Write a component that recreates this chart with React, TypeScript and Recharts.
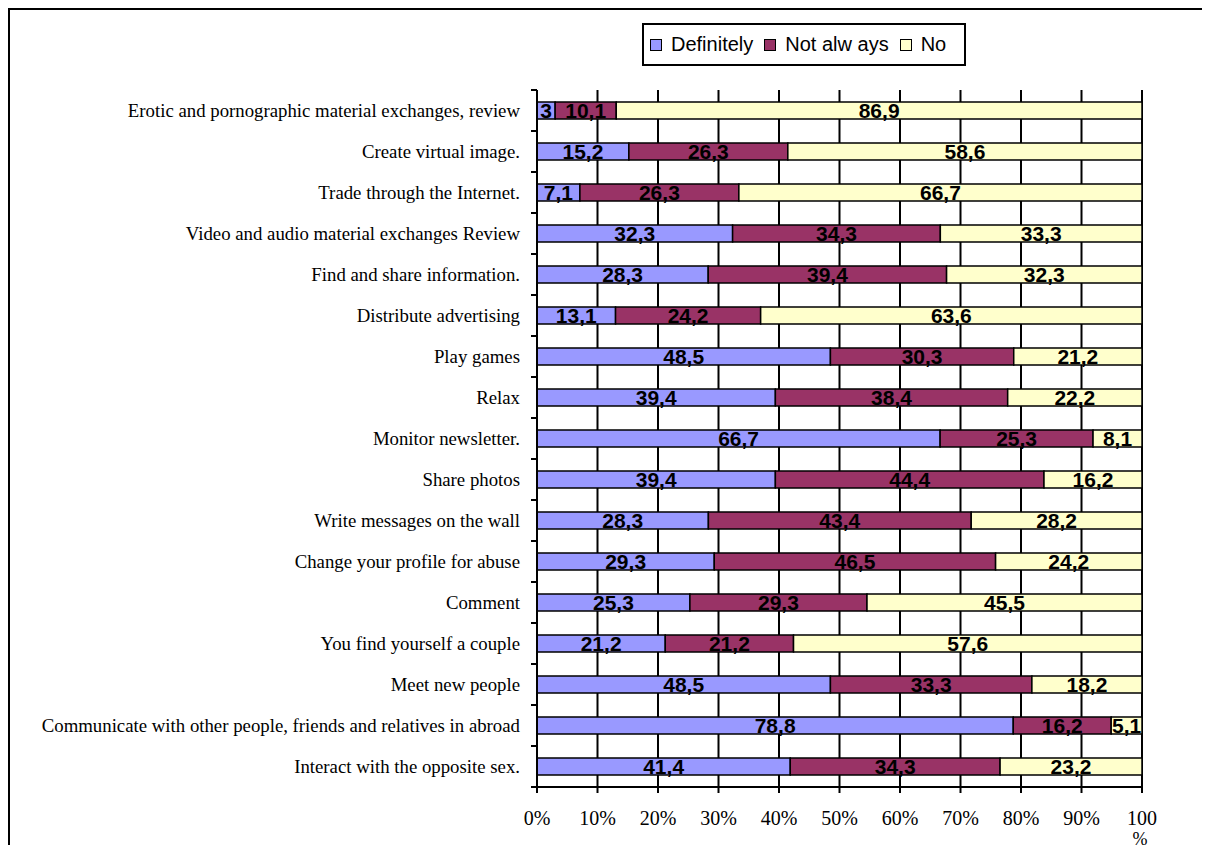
import React from 'react';
import { BarChart, Bar, XAxis, YAxis, CartesianGrid, LabelList } from 'recharts';

const categories = [
  'Erotic and pornographic material exchanges, review',
  'Create virtual image.',
  'Trade through the Internet.',
  'Video and audio material exchanges Review',
  'Find and share information.',
  'Distribute advertising',
  'Play games',
  'Relax',
  'Monitor newsletter.',
  'Share photos',
  'Write messages on the wall',
  'Change your profile for abuse',
  'Comment',
  'You find yourself a couple',
  'Meet new people',
  'Communicate with other people, friends and relatives in abroad',
  'Interact with the opposite sex.',
];

const definitely = [3, 15.2, 7.1, 32.3, 28.3, 13.1, 48.5, 39.4, 66.7, 39.4, 28.3, 29.3, 25.3, 21.2, 48.5, 78.8, 41.4];
const notAlways = [10.1, 26.3, 26.3, 34.3, 39.4, 24.2, 30.3, 38.4, 25.3, 44.4, 43.4, 46.5, 29.3, 21.2, 33.3, 16.2, 34.3];
const no = [86.9, 58.6, 66.7, 33.3, 32.3, 63.6, 21.2, 22.2, 8.1, 16.2, 28.2, 24.2, 45.5, 57.6, 18.2, 5.1, 23.2];

const xTicks = [0, 0.1, 0.2, 0.3, 0.4, 0.5, 0.6, 0.7, 0.8, 0.9, 1];

const seriesNames = ['Definitely', 'Not alw ays', 'No'];
const seriesColors = ['#9999FF', '#993366', '#FFFFCC'];

const data = categories.map((name, i) => ({
  name,
  def: definitely[i],
  notAlways: notAlways[i],
  no: no[i],
}));

// layout constants (chart coords)
const W = 1192;
const H = 835;
const M_TOP = 80;
const M_RIGHT = 60;
const Y_W = 527;
const X_H = 58;
const band = (H - M_TOP - X_H) / categories.length;

const serif = '"Liberation Serif", "Times New Roman", serif';
const sans = '"Liberation Sans", Arial, sans-serif';

const fmt = (v: any) => String(v).replace('.', ',');

const YTick = (props: any) => {
  const { x, y, payload, index } = props;
  return (
    <g>
      {index === 0 && <line x1={x - 6} x2={x} y1={y - band / 2} y2={y - band / 2} stroke="#000" strokeWidth={2} />}
      <line x1={x - 6} x2={x} y1={y + band / 2} y2={y + band / 2} stroke="#000" strokeWidth={2} />
      <text x={x - 17} y={y} dy={6} textAnchor="end" fill="#000" fontFamily={serif} fontSize={18.8}>
        {payload.value}
      </text>
    </g>
  );
};

const XTick = (props: any) => {
  const { x, y, payload } = props;
  const pct = Math.round(payload.value * 100);
  if (pct === 100) {
    // "100 %" wraps onto two lines in the original
    return (
      <g>
        <text x={x} y={y + 23} dy={7} textAnchor="middle" fill="#000" fontFamily={serif} fontSize={20}>100</text>
        <text x={x - 2} y={y + 43} dy={7} textAnchor="middle" fill="#000" fontFamily={serif} fontSize={18}>%</text>
      </g>
    );
  }
  return (
    <text x={x} y={y + 23} dy={7} textAnchor="middle" fill="#000" fontFamily={serif} fontSize={20}>
      {pct}%
    </text>
  );
};

const labelStyle = { fontFamily: sans, fontWeight: 700, fontSize: 21 };

const Legend = () => (
  <div
    style={{
      position: 'absolute',
      left: 632,
      top: 13,
      width: 320,
      height: 39,
      border: '2px solid #000',
      background: '#fff',
      display: 'flex',
      alignItems: 'center',
      fontFamily: sans,
      fontSize: 20,
      color: '#000',
    }}
  >
    {seriesNames.map((n, i) => (
      <div key={n} style={{ display: 'flex', alignItems: 'center', marginLeft: i === 0 ? 6 : 11 }}>
        <span
          style={{
            display: 'inline-block',
            width: 10,
            height: 10,
            border: '1.5px solid #000',
            background: seriesColors[i],
            marginRight: 9,
          }}
        />
        <span>{n}</span>
      </div>
    ))}
  </div>
);

export default function App() {
  return (
    <div style={{ position: 'relative', borderTop: '2px solid #000', borderLeft: '2px solid #000', height: H, overflow: 'hidden' }}>
      <style>{'html,body{overflow:hidden} body{margin:8px 8px 0 8px}'}</style>
      <BarChart
        width={W}
        height={H}
        data={data}
        layout="vertical"
        stackOffset="expand"
        barSize={17}
        margin={{ top: M_TOP, right: M_RIGHT, bottom: 0, left: 0 }}
      >
        <CartesianGrid horizontal={false} vertical stroke="#000" strokeWidth={2} />
        <XAxis
          type="number"
          domain={[0, 1]}
          ticks={xTicks}
          height={X_H}
          axisLine={{ stroke: '#000', strokeWidth: 2 }}
          tickLine={{ stroke: '#000', strokeWidth: 2 }}
          tickSize={6}
          tick={<XTick />}
          interval={0}
        />
        <YAxis
          type="category"
          dataKey="name"
          width={Y_W}
          axisLine={{ stroke: '#000', strokeWidth: 2 }}
          tickLine={false}
          tickSize={0}
          tickMargin={0}
          tick={<YTick />}
          interval={0}
        />
        <Bar dataKey="def" stackId="a" fill={seriesColors[0]} stroke="#000" strokeWidth={1.5} isAnimationActive={false}>
          <LabelList dataKey="def" position="center" formatter={fmt} fill="#000" style={labelStyle} />
        </Bar>
        <Bar dataKey="notAlways" stackId="a" fill={seriesColors[1]} stroke="#000" strokeWidth={1.5} isAnimationActive={false}>
          <LabelList dataKey="notAlways" position="center" formatter={fmt} fill="#000" style={labelStyle} />
        </Bar>
        <Bar dataKey="no" stackId="a" fill={seriesColors[2]} stroke="#000" strokeWidth={1.5} isAnimationActive={false}>
          <LabelList dataKey="no" position="center" formatter={fmt} fill="#000" style={labelStyle} />
        </Bar>
      </BarChart>
      <Legend />
    </div>
  );
}
